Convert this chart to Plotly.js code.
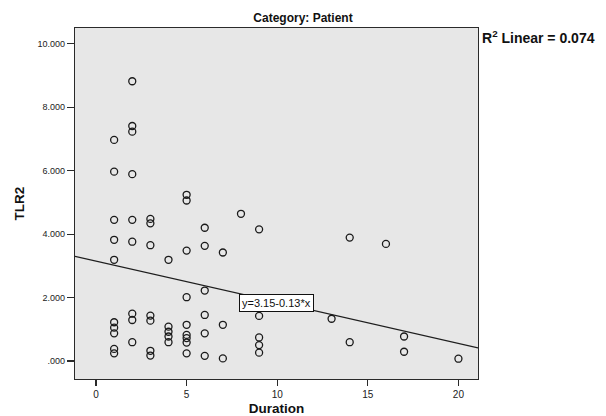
<!DOCTYPE html>
<html>
<head>
<meta charset="utf-8">
<script src="https://cdn.plot.ly/plotly-3.0.1.min.js"></script>
<style>html,body{margin:0;padding:0;background:#fff;}#chart{width:606px;height:416px;}</style>
</head>
<body>
<div id="chart"></div>
<script>
// Data
const duration = [
  1,1,1,1,1,1,1,1,1,1,
  2,2,2,2,2,2,2,2,2,
  3,3,3,3,3,3,3,
  4,4,4,4,4,
  5,5,5,5,5,5,5,5,5,
  6,6,6,6,6,6,
  7,7,7,
  8,
  9,9,9,9,9,
  13,
  14,14,
  16,
  17,17,
  20
];
const tlr2 = [
  6.97,5.97,4.45,3.82,3.19,1.22,1.05,0.87,0.38,0.24,
  8.82,7.41,7.23,5.89,4.45,3.76,1.49,1.29,0.59,
  4.48,4.34,3.65,1.43,1.27,0.32,0.17,
  3.19,1.08,0.92,0.77,0.59,
  5.24,5.06,3.48,2.01,1.14,0.82,0.72,0.58,0.24,
  4.20,3.63,2.22,1.45,0.87,0.16,
  3.42,1.14,0.08,
  4.64,
  4.15,1.42,0.74,0.50,0.26,
  1.33,
  3.89,0.59,
  3.69,
  0.77,0.29,
  0.07
];
const fitCoef = [3.15, -0.13];           // intercept, slope
const xRange = [-1.16, 21.08];
const yRange = [-0.57, 10.5];
const xTicks = [0, 5, 10, 15, 20];
const yTickVals = [0, 2, 4, 6, 8, 10];
const yTickText = ['.000', '2.000', '4.000', '6.000', '8.000', '10.000'];
const titleText = 'Category: Patient';
const r2Text = 'R<sup>2</sup> Linear = 0.074';
const eqText = 'y=3.15-0.13*x';

const fitX = xRange.slice();
const fitY = fitX.map(x => fitCoef[0] + fitCoef[1] * x);

const font = 'Liberation Sans, Arial, sans-serif';

const traces = [
  {
    x: fitX, y: fitY, type: 'scatter', mode: 'lines',
    line: {color: '#1e1e1e', width: 1.2}, hoverinfo: 'skip', showlegend: false
  },
  {
    x: duration, y: tlr2, type: 'scatter', mode: 'markers',
    marker: {symbol: 'circle-open', size: 7, color: '#1a1a1a', line: {width: 1.3, color: '#1a1a1a'}},
    showlegend: false
  }
];

const layout = {
  width: 606, height: 416,
  margin: {l: 75, r: 128, t: 28, b: 37},
  paper_bgcolor: '#ffffff',
  plot_bgcolor: '#e7e7e7',
  font: {family: font, size: 10, color: '#111'},
  title: {
    text: '<b>' + titleText + '</b>',
    font: {family: font, size: 12, color: '#111'},
    x: 0.5, xref: 'container', xanchor: 'center',
    y: 1 - 18/416, yref: 'container', yanchor: 'middle'
  },
  xaxis: {
    range: xRange, tickvals: xTicks, ticktext: xTicks.map(String),
    showgrid: false, zeroline: false,
    showline: true, mirror: true, linecolor: '#2a2a2a', linewidth: 1.2,
    ticks: 'outside', ticklen: 6, tickcolor: '#2a2a2a', tickwidth: 1.2,
    tickfont: {family: font, size: 10, color: '#222'},
    title: {text: '<b>Duration</b>', font: {family: font, size: 13.5, color: '#111'}, standoff: 7}
  },
  yaxis: {
    range: yRange, tickvals: yTickVals, ticktext: yTickText,
    showgrid: false, zeroline: false,
    showline: true, mirror: true, linecolor: '#2a2a2a', linewidth: 1.2,
    ticks: 'outside', ticklen: 7, tickcolor: '#2a2a2a', tickwidth: 1.2,
    tickfont: {family: font, size: 9, color: '#222'},
    title: {text: '<b>TLR2</b>', font: {family: font, size: 13.5, color: '#111'}, standoff: 9}
  },
  annotations: [
    {
      text: '<b>' + r2Text + '</b>', xref: 'paper', yref: 'paper',
      x: 1.005, y: (379 - 37) / 351, xanchor: 'left', yanchor: 'middle',
      showarrow: false, font: {family: font, size: 14, color: '#111'}
    },
    {
      text: eqText, xref: 'x', yref: 'y', x: 9.96, y: 1.83,
      xanchor: 'center', yanchor: 'middle', showarrow: false,
      bgcolor: '#ffffff', bordercolor: '#111', borderwidth: 1, borderpad: 2,
      font: {family: font, size: 11, color: '#111'}
    }
  ]
};

Plotly.newPlot('chart', traces, layout, {displayModeBar: false, staticPlot: true});
</script>
</body>
</html>
